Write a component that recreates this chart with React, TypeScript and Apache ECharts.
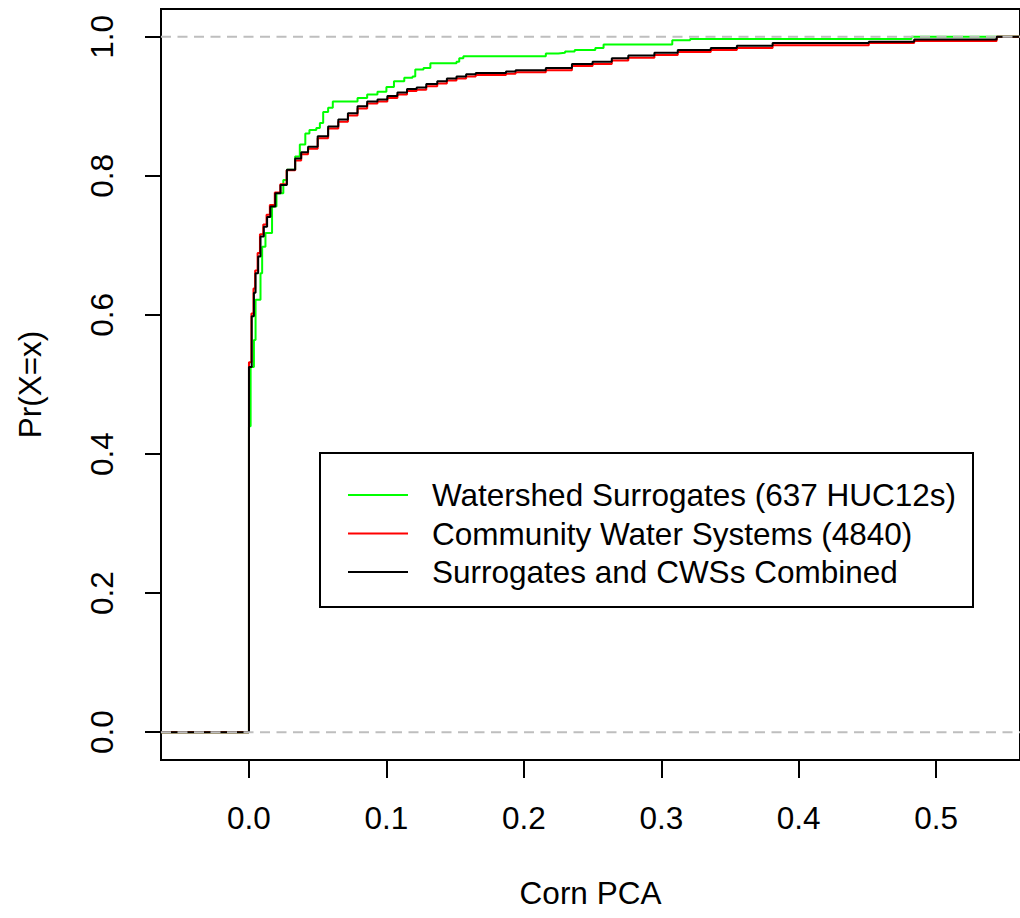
import React, { useEffect, useRef } from "react";
import * as echarts from "echarts";

const seriesNames = [
  "Watershed Surrogates (637 HUC12s)",
  "Community Water Systems (4840)",
  "Surrogates and CWSs Combined",
];
const seriesColors = ["#00FF00", "#FF0000", "#000000"];

const xTicks = [0, 0.1, 0.2, 0.3, 0.4, 0.5];
const yTicks = [0, 0.2, 0.4, 0.6, 0.8, 1.0];
const refLines = [0, 1];

const greenEcdf: [number, number][] = [
  [-0.064, 0], [0, 0.44], [0.0012, 0.525], [0.0036, 0.564], [0.0048, 0.622], [0.0084, 0.66],
  [0.0096, 0.698], [0.012, 0.718], [0.0168, 0.756], [0.02, 0.775], [0.025, 0.794], [0.0276, 0.809],
  [0.0336, 0.828], [0.037, 0.845], [0.041, 0.861], [0.044, 0.866], [0.049, 0.869], [0.0516, 0.876],
  [0.054, 0.892], [0.0576, 0.898], [0.061, 0.907], [0.079, 0.912], [0.086, 0.917], [0.0935, 0.921],
  [0.1, 0.928], [0.1055, 0.936], [0.113, 0.941], [0.119, 0.943], [0.121, 0.953], [0.127, 0.955],
  [0.132, 0.962], [0.151, 0.964], [0.153, 0.969], [0.156, 0.972], [0.216, 0.976], [0.225, 0.977],
  [0.23, 0.979], [0.237, 0.981], [0.252, 0.984], [0.258, 0.989], [0.308, 0.995], [0.321, 0.997],
  [0.482, 1.0], [0.561, 1.0],
];

const redEcdf: [number, number][] = [
  [-0.064, 0], [0, 0.532], [0.0018, 0.602], [0.0033, 0.638], [0.0045, 0.664], [0.0063, 0.689],
  [0.008, 0.716], [0.0104, 0.73], [0.0128, 0.744], [0.0152, 0.758], [0.0188, 0.776], [0.0228, 0.788],
  [0.0274, 0.808], [0.0336, 0.822], [0.038, 0.831], [0.043, 0.839], [0.05, 0.854], [0.0576, 0.868],
  [0.065, 0.878], [0.072, 0.887], [0.079, 0.897], [0.086, 0.904], [0.0935, 0.907], [0.1007, 0.912],
  [0.108, 0.917], [0.115, 0.922], [0.122, 0.924], [0.129, 0.929], [0.137, 0.933], [0.144, 0.937],
  [0.151, 0.94], [0.158, 0.943], [0.165, 0.945], [0.187, 0.947], [0.194, 0.949], [0.216, 0.952],
  [0.235, 0.958], [0.25, 0.961], [0.264, 0.966], [0.276, 0.97], [0.295, 0.974], [0.312, 0.978],
  [0.336, 0.981], [0.355, 0.984], [0.381, 0.988], [0.451, 0.991], [0.484, 0.994], [0.544, 1.0],
  [0.561, 1.0],
];

const blackEcdf: [number, number][] = [
  [-0.064, 0], [0, 0.525], [0.002, 0.598], [0.0036, 0.632], [0.0048, 0.66], [0.0067, 0.684],
  [0.0084, 0.713], [0.0108, 0.727], [0.0132, 0.741], [0.0156, 0.756], [0.0192, 0.775], [0.023, 0.787],
  [0.0276, 0.809], [0.0336, 0.825], [0.038, 0.834], [0.043, 0.842], [0.05, 0.857], [0.0576, 0.871],
  [0.065, 0.881], [0.072, 0.89], [0.079, 0.9], [0.086, 0.907], [0.0935, 0.91], [0.1007, 0.915],
  [0.108, 0.92], [0.115, 0.925], [0.122, 0.927], [0.129, 0.932], [0.137, 0.936], [0.144, 0.94],
  [0.151, 0.943], [0.158, 0.946], [0.165, 0.948], [0.187, 0.95], [0.194, 0.952], [0.216, 0.955],
  [0.235, 0.961], [0.25, 0.964], [0.264, 0.969], [0.276, 0.973], [0.295, 0.977], [0.312, 0.981],
  [0.336, 0.984], [0.355, 0.987], [0.381, 0.991], [0.451, 0.993], [0.484, 0.996], [0.544, 1.0],
  [0.561, 1.0],
];

const X_MIN = -0.064;
const X_MAX = 0.561;
const Y_MIN = -0.04;
const Y_MAX = 1.04;

const FONT = "'Liberation Sans', Arial, sans-serif";
const FS = 31.5;

export default function App() {
  const ref = useRef<HTMLDivElement>(null);

  useEffect(() => {
    if (!ref.current) return;
    const chart = echarts.init(ref.current, undefined, { renderer: "svg" });
    const ecdfData = [greenEcdf, redEcdf, blackEcdf];

    const option: any = {
      animation: false,
      backgroundColor: "#ffffff",
      textStyle: { fontFamily: FONT },
      grid: {
        left: 161,
        top: 9,
        width: 869,
        height: 751,
        show: true,
        borderColor: "#000",
        borderWidth: 2,
        backgroundColor: "transparent",
      },
      xAxis: {
        type: "value",
        min: X_MIN,
        max: X_MAX,
        axisLine: { show: false, onZero: false },
        splitLine: { show: false },
        axisTick: {
          show: true,
          customValues: xTicks,
          length: 18,
          lineStyle: { color: "#000", width: 2 },
        },
        axisLabel: {
          customValues: xTicks,
          formatter: (v: number) => v.toFixed(1),
          fontSize: FS,
          fontFamily: FONT,
          color: "#000",
          margin: 42,
        },
        name: "Corn PCA",
        nameLocation: "middle",
        nameGap: 117,
        nameTextStyle: { fontSize: FS, fontFamily: FONT, color: "#000" },
      },
      yAxis: {
        type: "value",
        min: Y_MIN,
        max: Y_MAX,
        axisLine: { show: false, onZero: false },
        splitLine: { show: false },
        axisTick: {
          show: true,
          customValues: yTicks,
          length: 16,
          lineStyle: { color: "#000", width: 2 },
        },
        axisLabel: {
          customValues: yTicks,
          formatter: (v: number) => v.toFixed(1),
          rotate: 90,
          fontSize: FS,
          fontFamily: FONT,
          color: "#000",
          margin: 43,
        },
        name: "Pr(X=x)",
        nameLocation: "middle",
        nameGap: 115,
        nameTextStyle: { fontSize: FS, fontFamily: FONT, color: "#000" },
      },
      legend: {
        data: seriesNames,
        orient: "vertical",
        left: 348,
        top: 479,
        padding: 0,
        icon: "rect",
        itemWidth: 60,
        itemHeight: 2,
        itemGap: 6.5,
        selectedMode: false,
        textStyle: {
          fontSize: FS,
          lineHeight: 31,
          fontFamily: FONT,
          color: "#000",
          padding: [0, 0, 0, 19],
        },
      },
      graphic: [
        {
          type: "rect",
          shape: { x: 320, y: 453, width: 653, height: 154 },
          style: { fill: "none", stroke: "#000", lineWidth: 2 },
          z: 100,
        },
      ],
      series: [
        ...seriesNames.map((name, i) => ({
          name,
          type: "line",
          step: "end",
          data: ecdfData[i],
          symbol: "none",
          lineStyle: { color: seriesColors[i], width: 2 },
          itemStyle: { color: seriesColors[i] },
          z: 2 + i,
        })),
        ...refLines.map((y) => ({
          name: "ref" + y,
          type: "line",
          data: [
            [X_MIN, y],
            [X_MAX, y],
          ],
          symbol: "none",
          lineStyle: { color: "#BEBEBE", width: 2, type: [10, 6.5] },
          z: 10,
          silent: true,
        })),
      ],
    };

    chart.setOption(option);
    return () => chart.dispose();
  }, []);

  return (
    <div
      ref={ref}
      style={{ position: "absolute", left: 0, top: 0, width: 1020, height: 918 }}
    />
  );
}
